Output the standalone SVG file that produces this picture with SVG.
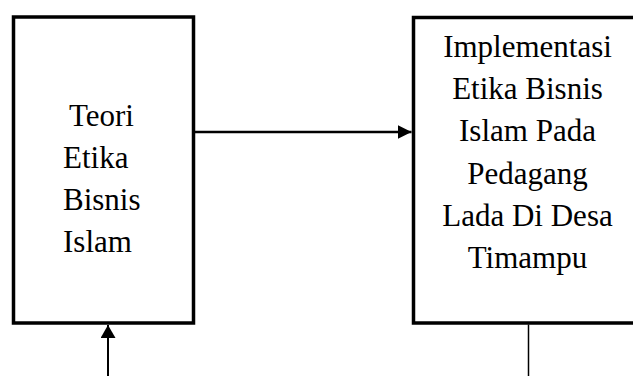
<svg xmlns="http://www.w3.org/2000/svg" width="633" height="376" viewBox="0 0 633 376">
<defs>
<style>
.box{fill:#fff;stroke:#000;stroke-width:3.5}
.t{font-family:"Liberation Serif","Times New Roman",serif;font-size:31px;fill:#000}
.c{text-anchor:middle}
.ln{stroke:#000;fill:none}
</style>
<marker id="ah" viewBox="0 0 14 14" refX="14" refY="7" markerWidth="14" markerHeight="14" markerUnits="userSpaceOnUse" orient="auto">
<path d="M0,0 L14,7 L0,14 Z" fill="#000"/>
</marker>
<marker id="ah2" viewBox="0 0 13 15" refX="13" refY="7.5" markerWidth="13" markerHeight="15" markerUnits="userSpaceOnUse" orient="auto">
<path d="M0,0 L13,7.5 L0,15 Z" fill="#000"/>
</marker>
</defs>
<rect width="633" height="376" fill="#fff"/>
<g id="node-teori">
<rect class="box" x="13.5" y="17" width="180" height="306"/>
<text class="t" x="69" y="126">Teori</text>
<text class="t" x="63" y="168">Etika</text>
<text class="t" x="63" y="210">Bisnis</text>
<text class="t" x="63" y="252">Islam</text>
</g>
<g id="node-implementasi">
<rect class="box" x="413.5" y="17.5" width="240" height="305.5"/>
<text class="t c" x="527.5" y="57">Implementasi</text>
<text class="t c" x="527.5" y="99">Etika Bisnis</text>
<text class="t c" x="527.5" y="141">Islam Pada</text>
<text class="t c" x="527.5" y="184">Pedagang</text>
<text class="t c" x="527.5" y="226">Lada Di Desa</text>
<text class="t c" x="527.5" y="268">Timampu</text>
</g>
<g id="connectors">
<line class="ln" x1="195" y1="132" x2="411.5" y2="132" stroke-width="2.5" marker-end="url(#ah)"/>
<line class="ln" x1="108" y1="376" x2="108" y2="325" stroke-width="2" marker-end="url(#ah2)"/>
<line class="ln" x1="528.5" y1="324.5" x2="528.5" y2="376" stroke-width="1.5"/>
</g>
</svg>
